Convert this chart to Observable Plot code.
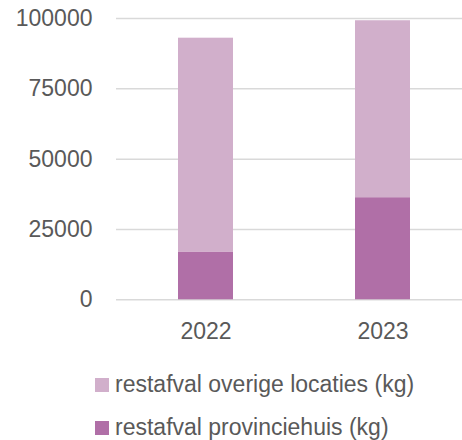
<!DOCTYPE html>
<html>
<head>
<meta charset="utf-8">
<script src="https://cdn.jsdelivr.net/npm/d3@7"></script>
<script src="https://cdn.jsdelivr.net/npm/@observablehq/plot@0.6"></script>
<style>
  html, body { margin: 0; padding: 0; background: #fff; }
  body { width: 462px; height: 440px; overflow: hidden; font-family: "Liberation Sans", Arial, sans-serif; color: #595959; }
  #chart svg { display: block; }
  #legend { padding-top: 13px; font-size: 23px; }
  .item { display: flex; align-items: center; height: 43px; padding-left: 95px; }
  .sw { width: 14px; height: 14px; margin-right: 6px; flex: none; }
</style>
</head>
<body>
<div id="chart"></div>
<div id="legend"></div>
<script>
const years = ["2022", "2023"];
const seriesNames = ["restafval provinciehuis (kg)", "restafval overige locaties (kg)"];
const provinciehuis = [17000, 36300];
const overigeLocaties = [76000, 62900];
const yTicks = [0, 25000, 50000, 75000, 100000];
const colors = ["#b06fa7", "#d1afcb"];
const legendOrder = ["restafval overige locaties (kg)", "restafval provinciehuis (kg)"];

const data = years.flatMap((year, i) => [
  {year, series: seriesNames[0], value: provinciehuis[i]},
  {year, series: seriesNames[1], value: overigeLocaties[i]}
]);

const chart = Plot.plot({
  width: 462,
  height: 350,
  marginTop: 18,
  marginBottom: 50.7,
  marginLeft: 116,
  marginRight: 0,
  style: {fontFamily: '"Liberation Sans", Arial, sans-serif', fontSize: "23px", color: "#595959", background: "#fff"},
  x: {domain: years, paddingInner: 0.69, paddingOuter: 0.3175, align: 0.54, label: null},
  y: {domain: [0, 100000], label: null},
  color: {domain: seriesNames, range: colors},
  marks: [
    Plot.ruleY(yTicks, {stroke: "#d9d9d9", strokeWidth: 1.5}),
    Plot.barY(data, {x: "year", y: "value", fill: "series"}),
    Plot.axisY({ticks: yTicks, tickSize: 0, tickPadding: 24, tickFormat: d => String(d), label: null}),
    Plot.axisX({tickSize: 0, tickPadding: 23, label: null})
  ]
});
document.getElementById("chart").appendChild(chart);

const legend = document.getElementById("legend");
for (const name of legendOrder) {
  const row = document.createElement("div");
  row.className = "item";
  const sw = document.createElement("span");
  sw.className = "sw";
  sw.style.background = colors[seriesNames.indexOf(name)];
  const label = document.createElement("span");
  label.textContent = name;
  row.appendChild(sw);
  row.appendChild(label);
  legend.appendChild(row);
}
</script>
</body>
</html>
